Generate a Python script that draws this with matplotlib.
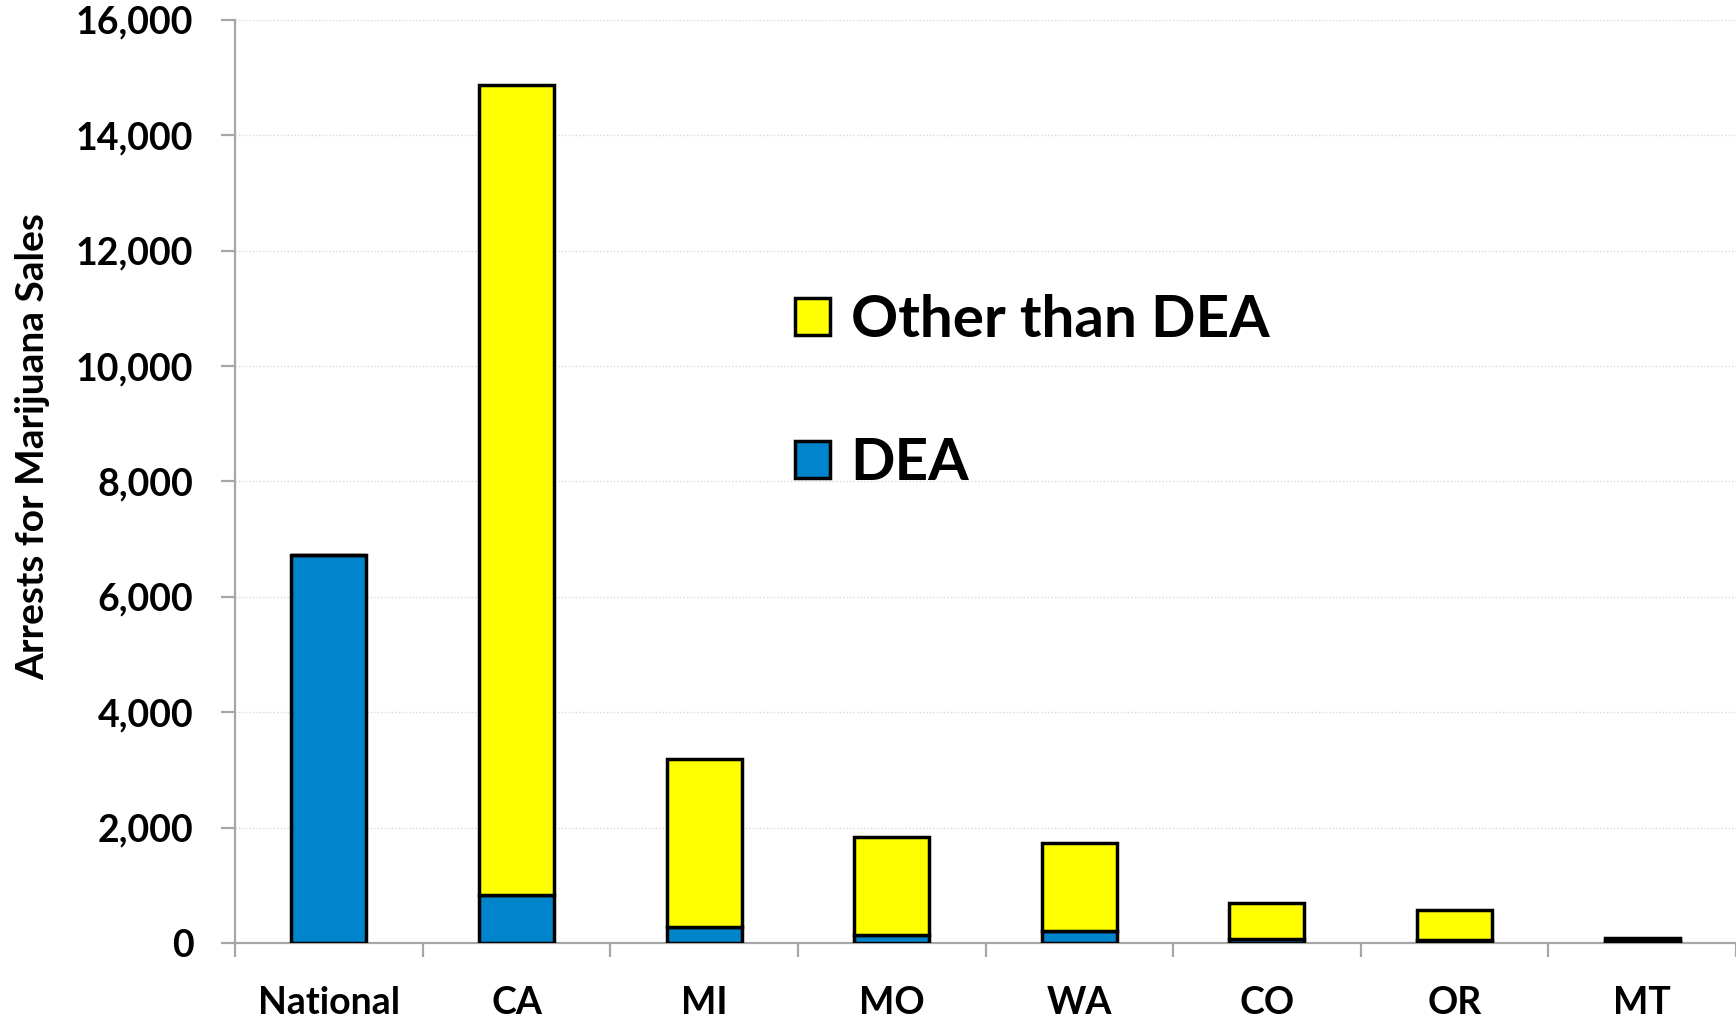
import matplotlib
matplotlib.use("Agg")
import matplotlib.pyplot as plt
from matplotlib.patches import Patch
from matplotlib.ticker import FuncFormatter, FixedLocator
import numpy as np

categories = ["National", "CA", "MI", "MO", "WA", "CO", "OR", "MT"]
dea = [6730, 835, 270, 135, 210, 70, 60, 40]
other_than_dea = [0, 14030, 2915, 1705, 1515, 620, 520, 55]
y_ticks = [0, 2000, 4000, 6000, 8000, 10000, 12000, 14000, 16000]

plt.rcParams['font.family'] = ['Lato', 'DejaVu Sans']
plt.rcParams['font.weight'] = 'bold'

BLUE = "#0084CC"
YELLOW = "#FFFF00"
GRAY = "#A6A6A6"

fig = plt.figure(figsize=(17.36, 10.19), dpi=100)
ax = fig.add_axes([0.1354, 0.0746, 0.8646, 0.9058])

x = np.arange(len(categories))
w = 0.40
ax.bar(x, dea, width=w, color=BLUE, edgecolor="black", linewidth=2.5, zorder=3, label="DEA")
ax.bar(x, other_than_dea, width=w, bottom=dea, color=YELLOW, edgecolor="black",
       linewidth=2.5, zorder=3, label="Other than DEA")

ax.set_xlim(-0.5, len(categories) - 0.5)
ax.set_ylim(0, 16000)
ax.set_yticks(y_ticks)
ax.yaxis.set_major_formatter(FuncFormatter(lambda v, p: f"{int(v):,}"))
ax.yaxis.grid(True, color="#D9D9D9", linestyle=(0, (1, 1.5)), linewidth=1.0, zorder=0)
ax.set_axisbelow(True)

ax.set_xticks(x)
ax.set_xticklabels(categories)
ax.xaxis.set_minor_locator(FixedLocator(np.arange(-0.5, len(categories), 1.0)))
ax.tick_params(axis="x", which="major", length=0, pad=31, labelsize=27)
ax.tick_params(axis="x", which="minor", length=10, width=1.6, color=GRAY, direction="out")
ax.tick_params(axis="y", which="major", length=10, width=1.6, color=GRAY, pad=20, labelsize=27)

for s in ["top", "right"]:
    ax.spines[s].set_visible(False)
for s in ["left", "bottom"]:
    ax.spines[s].set_color(GRAY)
    ax.spines[s].set_linewidth(1.6)

for lbl in ax.get_xticklabels() + ax.get_yticklabels():
    lbl.set_fontweight("bold")

fig.text(0.019, 0.562, "Arrests for Marijuana Sales", rotation=90, ha="center", va="center",
         fontsize=28, fontweight="bold")

handles = [Patch(facecolor=YELLOW, edgecolor="black", linewidth=2.5, label="Other than DEA"),
           Patch(facecolor=BLUE, edgecolor="black", linewidth=2.5, label="DEA")]
leg = fig.legend(handles=handles, loc="upper left", bbox_to_anchor=(0.458, 0.711),
                 frameon=False, prop={"size": 42, "weight": "bold"},
                 handlelength=0.6, handleheight=0.6, handletextpad=0.35, labelspacing=1.54,
                 borderaxespad=0, borderpad=0)

fig.savefig("out.png", dpi=100)
